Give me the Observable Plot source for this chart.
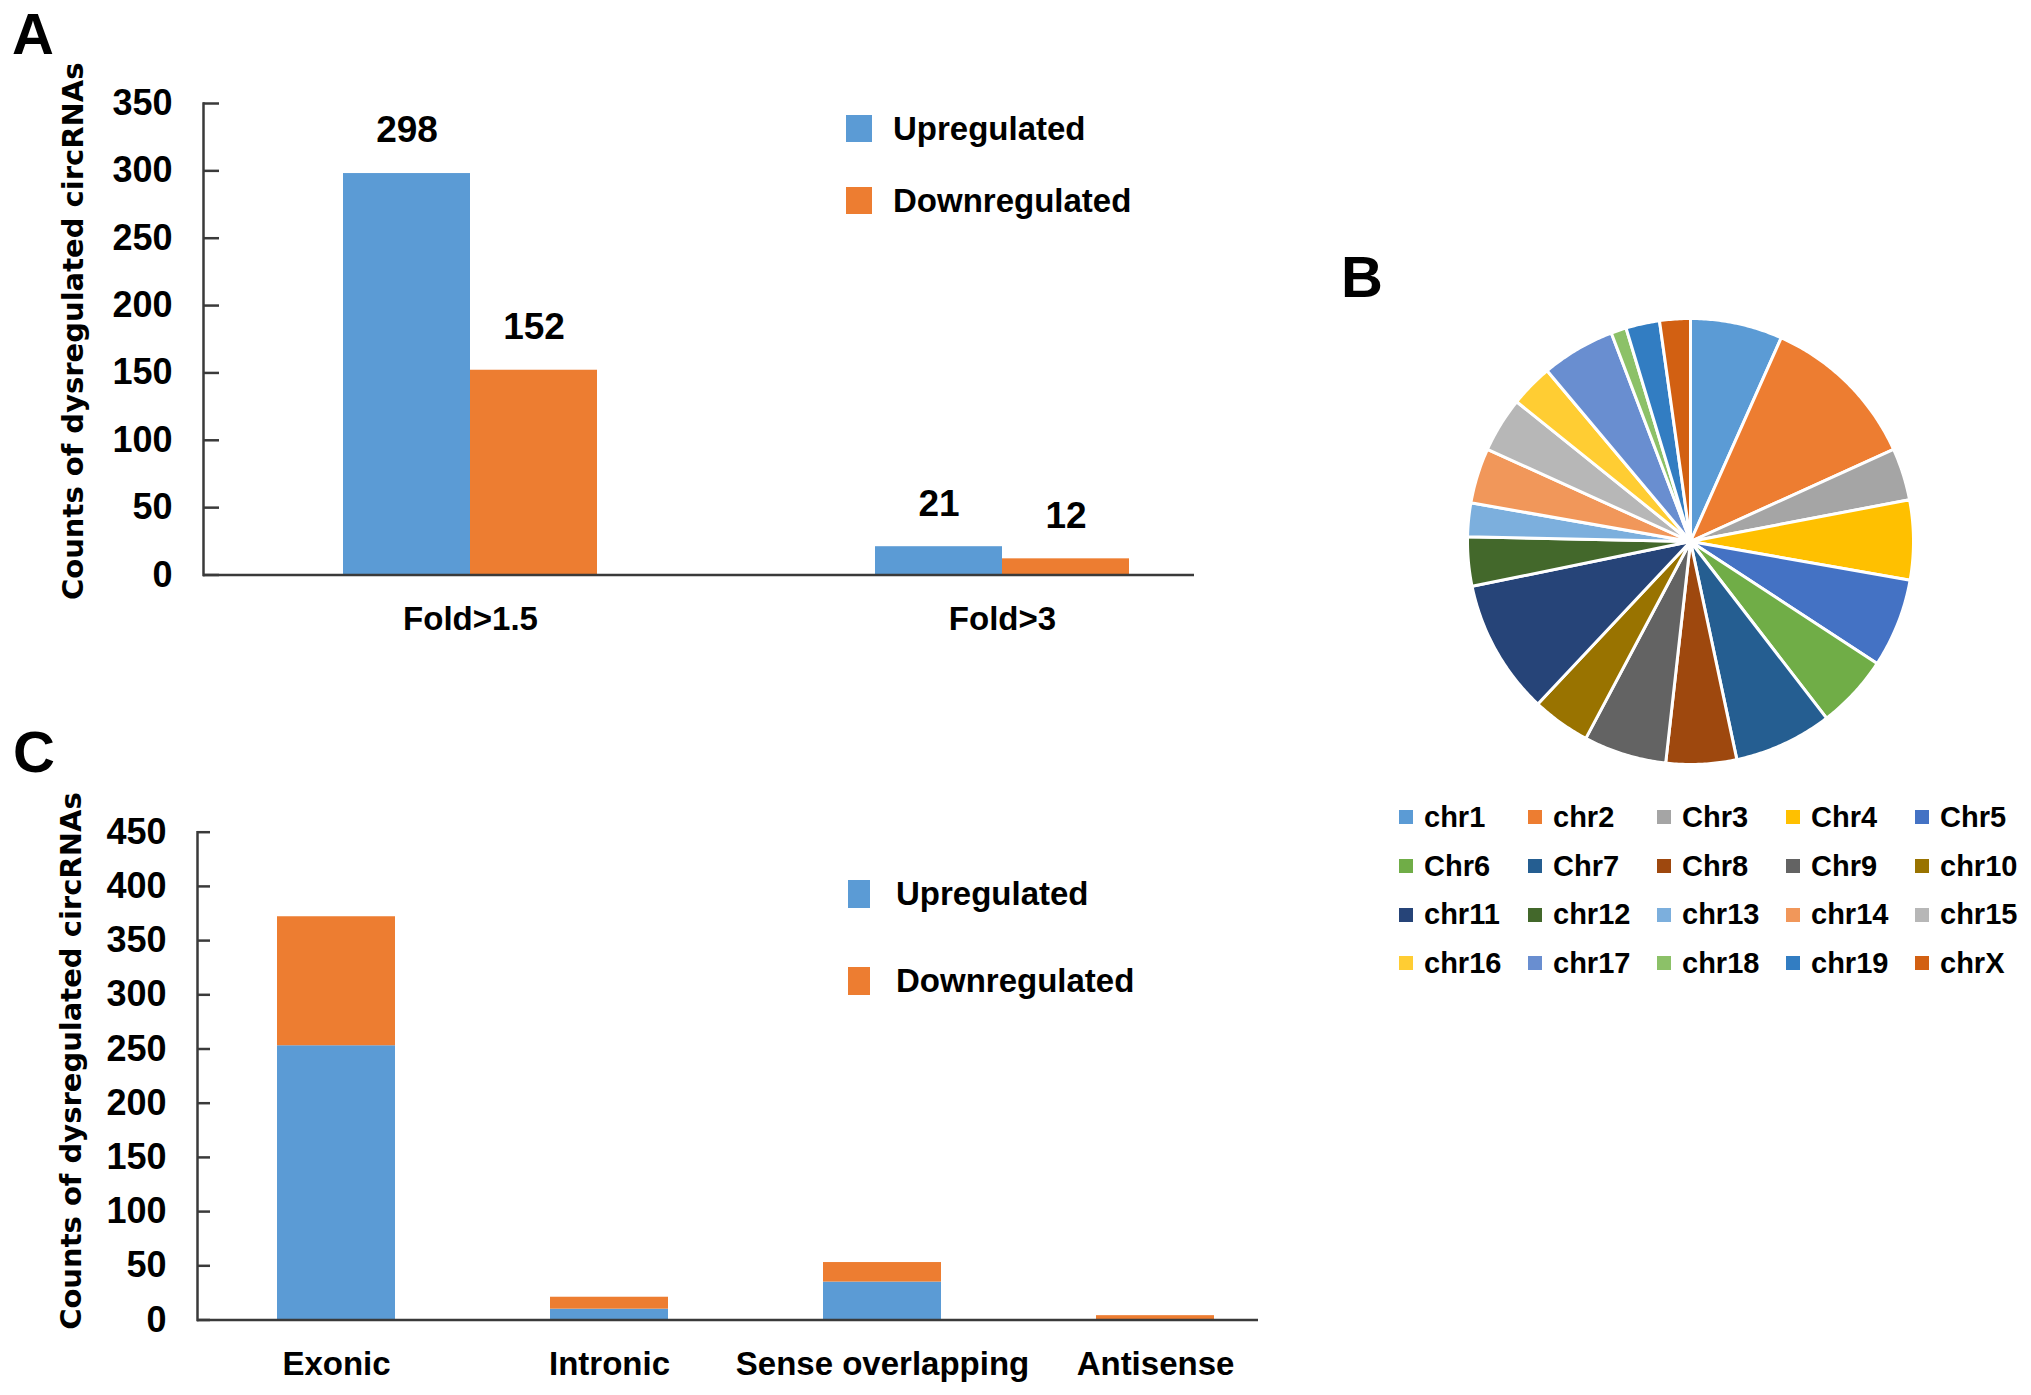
<!DOCTYPE html>
<html>
<head>
<meta charset="utf-8">
<script src="https://cdn.jsdelivr.net/npm/d3@7"></script>
<script src="https://cdn.jsdelivr.net/npm/@observablehq/plot@0.6"></script>
<style>
  body { margin: 0; background: #fff; }
  #fig { position: relative; width: 2031px; height: 1395px; background: #fff; overflow: hidden;
         font-family: "Liberation Sans", Arial, sans-serif; font-weight: bold; color: #000; }
  #fig > * { position: absolute; }
  .tag { font-family: "Liberation Sans", Arial, sans-serif; font-size: 58px; line-height: 1; font-weight: bold; }
  .key { display: flex; align-items: center; font-size: 33px; height: 30px; white-space: nowrap; }
  .chrom-key { display: grid; grid-template-columns: repeat(5, 129px); grid-auto-rows: 48.7px;
               font-size: 29px; }
  .chrom-key div { display: flex; align-items: center; white-space: nowrap; }
  .chrom-key span { display: inline-block; width: 14px; height: 14px; margin-right: 11px; }
</style>
</head>
<body>
<div id="fig"></div>
<script>
// colours (Excel default palette)
const blue = "#5B9BD5", orange = "#ED7D31";
const axisColor = "#3a3a3a";
const seriesNames = ["Upregulated", "Downregulated"];
const seriesColors = [blue, orange];
const yTitle = "Counts of dysregulated circRNAs";

// panel A
const foldCategories = ["Fold>1.5", "Fold>3"];
const foldUp = [298, 21];
const foldDown = [152, 12];
const yTicksA = [0, 50, 100, 150, 200, 250, 300, 350];

// panel B
const chromosomes = ["chr1", "chr2", "Chr3", "Chr4", "Chr5", "Chr6", "Chr7", "Chr8", "Chr9", "chr10",
                     "chr11", "chr12", "chr13", "chr14", "chr15", "chr16", "chr17", "chr18", "chr19", "chrX"];
const chromCounts = [30, 52, 17, 26, 29, 24, 32, 23, 27, 19, 44, 16, 11, 18, 18, 14, 24, 5, 11, 10];
const chromColors = ["#5B9BD5", "#ED7D31", "#A5A5A5", "#FFC000", "#4472C4", "#70AD47", "#255E91", "#9E480E",
                     "#636363", "#997300", "#264478", "#43682B", "#7CAFDD", "#F1975A", "#B7B7B7", "#FFCD33",
                     "#698ED0", "#8CC168", "#327DC2", "#D26012"];

// panel C
const regionTypes = ["Exonic", "Intronic", "Sense overlapping", "Antisense"];
const regionUp = [253, 10, 35, 0];
const regionDown = [119, 11, 18, 4];
const yTicksC = [0, 50, 100, 150, 200, 250, 300, 350, 400, 450];

const fig = document.getElementById("fig");
const place = (el, left, top) => { el.style.left = left + "px"; el.style.top = top + "px"; fig.append(el); return el; };
const baseStyle = {fontFamily: "Liberation Sans, Arial, sans-serif", fontSize: "33px", fontWeight: "bold",
                   color: "#000", background: "transparent"};
const titleOpts = {text: d => d, frameAnchor: "left", rotate: -90, textAnchor: "middle", lineAnchor: "top",
                   fontFamily: "DejaVu Sans, sans-serif", fontSize: 29, fontWeight: "bold"};

// ---- A: grouped bars
const tableA = foldCategories.map((fold, i) => ({fold, up: foldUp[i], down: foldDown[i]}));
const chartA = Plot.plot({
  width: 1250, height: 680,
  marginLeft: 203, marginRight: 56, marginTop: 103, marginBottom: 105.5,
  style: baseStyle,
  x: {domain: foldCategories, range: [343, 1129], paddingInner: 0.5226, paddingOuter: 0},
  y: {domain: [0, 350]},
  marks: [
    Plot.barY(tableA, {x: "fold", y: "up", fill: blue, insetRight: 127}),
    Plot.barY(tableA, {x: "fold", y: "down", fill: orange, insetLeft: 127}),
    Plot.text(tableA, {x: "fold", y: "up", text: "up", dx: -63.5, dy: -43, fontSize: 37}),
    Plot.text(tableA, {x: "fold", y: "down", text: "down", dx: 63.5, dy: -43, fontSize: 37}),
    Plot.axisY({ticks: yTicksA, tickSize: -16, tickPadding: 47, stroke: axisColor, strokeWidth: 2.5,
                fontSize: 36, label: null}),
    Plot.axisX({tickSize: 0, tickPadding: 32, label: null}),
    Plot.ruleY([0], {stroke: axisColor, strokeWidth: 2.5}),
    Plot.frame({anchor: "left", stroke: axisColor, strokeWidth: 2.5}),
    Plot.text([yTitle], {...titleOpts, dx: -141, dy: -8})
  ]
});
place(chartA, 0, 0);

// ---- C: stacked bars
const tableC = regionTypes.flatMap((type, i) => [
  {type, series: seriesNames[0], value: regionUp[i]},
  {type, series: seriesNames[1], value: regionDown[i]}
]);
const chartC = Plot.plot({
  width: 1300, height: 675,
  marginLeft: 197, marginRight: 42, marginTop: 111.7, marginBottom: 75.5,
  style: baseStyle,
  x: {domain: regionTypes, range: [275, 1215], paddingInner: 0.5693, paddingOuter: 0},
  y: {domain: [0, 450]},
  color: {domain: seriesNames, range: seriesColors},
  marks: [
    Plot.barY(tableC, {x: "type", y: "value", fill: "series"}),
    Plot.axisY({ticks: yTicksC, tickSize: -13, tickPadding: 44, stroke: axisColor, strokeWidth: 2.5,
                fontSize: 36, label: null}),
    Plot.axisX({tickSize: 0, tickPadding: 32, label: null}),
    Plot.ruleY([0], {stroke: axisColor, strokeWidth: 2.5}),
    Plot.frame({anchor: "left", stroke: axisColor, strokeWidth: 2.5}),
    Plot.text([yTitle], {...titleOpts, dx: -137, dy: -15})
  ]
});
place(chartC, 0, 720);

// ---- B: pie, slices clockwise from 12 o'clock
const chromTable = chromosomes.map((chrom, i) => ({chrom, count: chromCounts[i]}));
const pieArcs = d3.pie().sort(null).value(d => d.count)(chromTable);
const pieRings = pieArcs.flatMap(a => {
  const n = Math.max(2, Math.ceil((a.endAngle - a.startAngle) / 0.01));
  const pts = [{chrom: a.data.chrom, px: 0, py: 0}];
  for (let k = 0; k <= n; ++k) {
    const t = a.startAngle + (a.endAngle - a.startAngle) * k / n;
    pts.push({chrom: a.data.chrom, px: Math.sin(t), py: -Math.cos(t)});
  }
  return pts;
});
const pieBox = 250 / 223;
const chartB = Plot.plot({
  width: 500, height: 500, margin: 0,
  style: {background: "transparent"},
  x: {domain: [-pieBox, pieBox], range: [0, 500], axis: null},
  y: {domain: [-pieBox, pieBox], range: [0, 500], axis: null},
  color: {domain: chromosomes, range: chromColors},
  marks: [
    Plot.line(pieRings, {x: "px", y: "py", z: "chrom", fill: "chrom", stroke: "white", strokeWidth: 3,
                         strokeLinejoin: "round", curve: "linear-closed"})
  ]
});
place(chartB, 1440, 291);

// ---- legends
function seriesKey(left, tops, sw, sh, gap) {
  seriesNames.forEach((name, i) => {
    const row = document.createElement("div");
    row.className = "key";
    const sq = document.createElement("span");
    sq.style.cssText = `display:inline-block;width:${sw}px;height:${sh}px;background:${seriesColors[i]};margin-right:${gap}px`;
    row.append(sq, name);
    place(row, left, tops[i] - 15);
  });
}
seriesKey(846, [128.5, 200.5], 26, 27, 21);
seriesKey(848, [894, 981], 22, 28, 26);

const chromKey = document.createElement("div");
chromKey.className = "chrom-key";
chromosomes.forEach((c, i) => {
  const cell = document.createElement("div");
  const sq = document.createElement("span");
  sq.style.background = chromColors[i];
  cell.append(sq, c);
  chromKey.append(cell);
});
place(chromKey, 1399, 793);

// ---- panel tags
[["A", 12, 5], ["B", 1341, 248], ["C", 13, 723]].forEach(([t, x, y]) => {
  const d = document.createElement("div");
  d.className = "tag";
  d.textContent = t;
  place(d, x, y);
});
</script>
</body>
</html>
